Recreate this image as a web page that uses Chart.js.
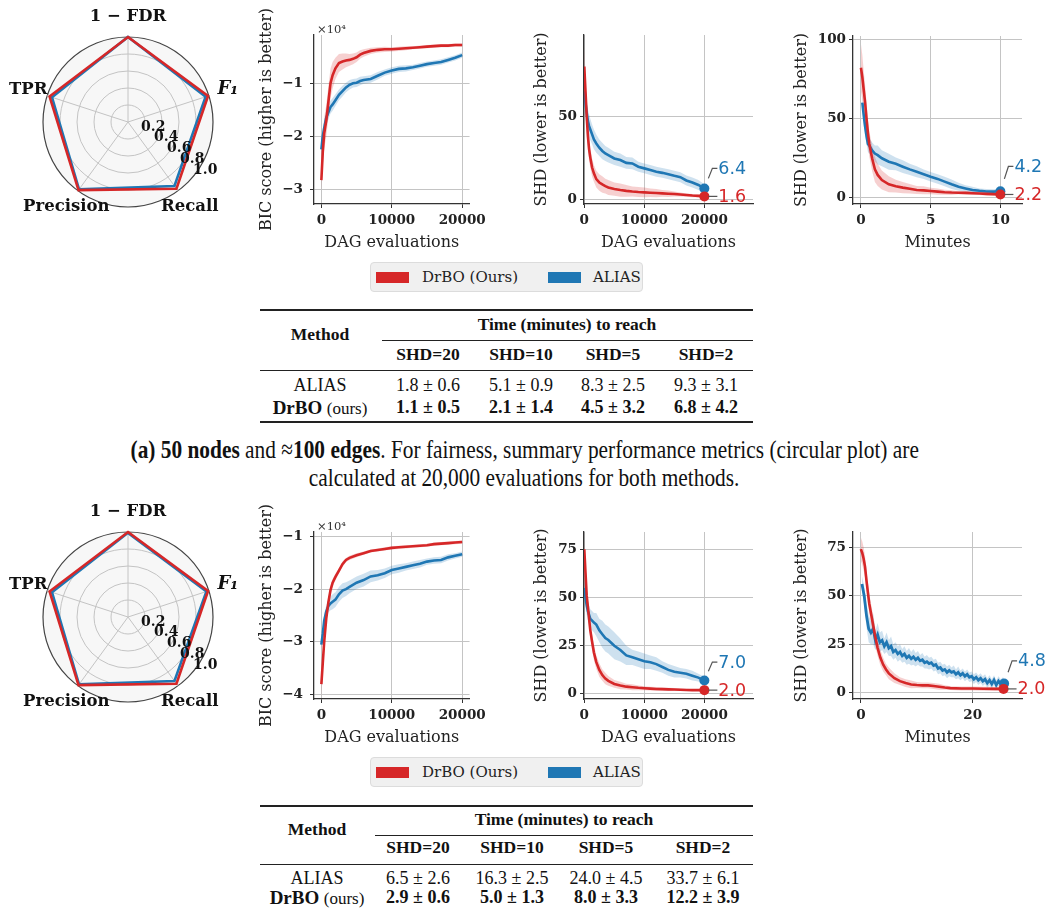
<!DOCTYPE html>
<html>
<head>
<meta charset="utf-8">
<title>DrBO vs ALIAS</title>
<script src="https://cdn.jsdelivr.net/npm/chart.js@4.4.1/dist/chart.umd.min.js"></script>
<style>
  html, body { margin: 0; padding: 0; background: #fff; }
  body { position: relative; width: 1047px; height: 909px; overflow: hidden; }
  canvas { position: absolute; }
  .txt { position: absolute; transform: translate(-50%, -50%); white-space: nowrap;
         font-family: "Liberation Serif", serif; color: #111; font-size: 18px; line-height: 1; }
  .hd { font-weight: bold; font-size: 17.5px; }
  .rule { position: absolute; background: #222; }
  .legend { position: absolute; width: 273px; height: 30px; background: #f0f0f0; border: 1px solid #dcdcdc;
            border-radius: 4px; box-sizing: border-box; font-family: "DejaVu Serif", serif; font-size: 15px; color: #222; }
  .legend .patch { position: absolute; top: 9px; width: 33px; height: 11px; }
  .legend .lab { position: absolute; top: 5px; line-height: 18px; }
  .cap { position: absolute; white-space: nowrap; font-family: "Liberation Serif", serif; font-size: 26px;
         color: #111; line-height: 1; }
</style>
</head>
<body>
<script>
// colours used by matplotlib's tab10
const RED = '#d62728';
const BLUE = '#1f77b4';

// ---------- radar (same axes for both panels) ----------
const radarLabels = ['1 − FDR', 'F₁', 'Recall', 'Precision', 'TPR'];
const radarTicks = [0.2, 0.4, 0.6, 0.8, 1.0];
const radarA_drbo = [1.0, 0.99, 0.97, 0.99, 0.97];
const radarA_alias = [1.0, 0.96, 0.93, 0.98, 0.94];
const radarB_drbo = [1.0, 0.99, 0.97, 0.99, 0.97];
const radarB_alias = [0.99, 0.97, 0.93, 0.98, 0.94];

// ---------- panel (a): BIC score (x1e4) vs DAG evaluations ----------
const bicA_x = [0, 200, 400, 700, 1000, 1300, 1600, 2000, 2500, 3000, 3500, 4000, 4500, 5000, 5500, 6000, 7000, 8000, 9000, 10000, 11000, 12000, 13000, 14000, 15000, 16000, 17000, 18000, 19000, 20000];
const bicA_drbo = [-2.83, -2.3, -1.95, -1.7, -1.35, -1.0, -0.85, -0.72, -0.62, -0.59, -0.57, -0.56, -0.54, -0.51, -0.46, -0.43, -0.39, -0.37, -0.36, -0.36, -0.35, -0.34, -0.33, -0.32, -0.31, -0.30, -0.29, -0.29, -0.28, -0.28];
const bicA_drboBand = [0.2, 0.25, 0.3, 0.3, 0.3, 0.28, 0.25, 0.2, 0.17, 0.15, 0.13, 0.11, 0.1, 0.09, 0.08, 0.07, 0.06, 0.05, 0.05, 0.04, 0.04, 0.04, 0.03, 0.03, 0.03, 0.03, 0.03, 0.03, 0.03, 0.03];
const bicA_alias = [-2.25, -2.0, -1.85, -1.65, -1.55, -1.45, -1.4, -1.32, -1.22, -1.15, -1.08, -1.03, -1.0, -0.99, -0.96, -0.94, -0.92, -0.86, -0.8, -0.76, -0.73, -0.72, -0.7, -0.67, -0.64, -0.62, -0.6, -0.56, -0.52, -0.47];
const bicA_aliasBand = [0.15, 0.15, 0.15, 0.14, 0.13, 0.12, 0.12, 0.11, 0.1, 0.1, 0.09, 0.09, 0.08, 0.08, 0.08, 0.07, 0.07, 0.07, 0.06, 0.06, 0.06, 0.06, 0.05, 0.05, 0.05, 0.05, 0.05, 0.05, 0.05, 0.05];

// ---------- panel (a): SHD vs DAG evaluations ----------
const shdA_x = [0, 200, 400, 600, 800, 1000, 1300, 1600, 2000, 2500, 3000, 3500, 4000, 5000, 6000, 7000, 8000, 9000, 10000, 11000, 12000, 13000, 14000, 15000, 16000, 17000, 18000, 19000, 20000];
const shdA_drbo = [80, 65, 50, 38, 30, 25, 19, 15.5, 12, 10, 8.8, 7.8, 7.0, 6.0, 5.4, 4.9, 4.5, 4.2, 4.0, 3.8, 3.6, 3.4, 3.2, 3.0, 2.7, 2.4, 2.1, 1.9, 1.6];
const shdA_drboBand = [12, 10, 9, 8, 7, 6, 5.5, 5, 5, 5, 5, 4.5, 4.5, 4, 4, 3.5, 3, 3, 3, 2.5, 2.5, 2, 2, 1.5, 1.2, 1, 1, 0.8, 0.5];
const shdA_alias = [65, 58, 52, 47, 44, 42, 39, 36, 33.5, 31, 29, 27.5, 26.5, 24.5, 23.5, 21.8, 21.5, 19.5, 18.5, 17.5, 16.5, 15.8, 15, 14, 13.2, 11.2, 10, 8.5, 6.4];
const shdA_aliasBand = [10, 9, 8, 7, 7, 6.5, 6, 6, 5.5, 5, 5, 4.5, 4.5, 4, 4, 3.5, 3.5, 3, 3, 3, 3, 3, 3, 3, 3, 3, 3, 3, 2.5];

// ---------- panel (a): SHD vs minutes ----------
const minA_drboX = [0, 0.1, 0.2, 0.3, 0.4, 0.5, 0.6, 0.8, 1.0, 1.2, 1.5, 2, 2.5, 3, 3.5, 4, 4.5, 5, 5.5, 6, 6.5, 7, 7.5, 8, 8.5, 9, 9.5, 10];
const minA_drbo = [82, 76, 68, 60, 50, 41, 34, 25, 18, 14.5, 11.3, 8.6, 7.4, 6.5, 5.8, 5.0, 4.8, 4.4, 4.0, 3.6, 3.4, 3.3, 3.2, 3.0, 2.8, 2.6, 2.4, 2.2];
const minA_drboBand = [15, 14, 12, 11, 10, 9, 8, 8, 8, 7, 6, 5, 4, 3.5, 3, 2.5, 2.5, 2, 2, 1.5, 1.5, 1, 1, 1, 1, 1, 1, 1];
const minA_aliasX = [0.1, 0.2, 0.3, 0.4, 0.5, 0.6, 0.8, 1.0, 1.2, 1.5, 2, 2.5, 3, 3.5, 4, 4.5, 5, 5.5, 6, 6.5, 7, 7.5, 8, 8.5, 9, 9.5, 10];
const minA_alias = [60, 52, 45, 39, 34, 33, 30, 28, 27, 25, 22.8, 21.5, 19.7, 18, 16.5, 15, 13.4, 12, 10.3, 8.6, 7.1, 6, 5, 4.5, 4.1, 4.0, 4.2];
const minA_aliasBand = [6, 6, 6, 5, 5, 5, 5, 5, 6, 5, 5, 4, 4, 3.5, 3.5, 3, 3, 3, 3, 3, 2.5, 2, 2, 1.5, 1.5, 1.5, 1.5];

// ---------- panel (b): BIC score (x1e4) vs DAG evaluations ----------
const bicB_x = [0, 200, 400, 700, 1000, 1300, 1600, 2000, 2500, 3000, 3500, 4000, 5000, 6000, 7000, 8000, 9000, 10000, 11000, 12000, 13000, 14000, 15000, 16000, 17000, 18000, 19000, 20000];
const bicB_drbo = [-3.8, -3.4, -3.0, -2.55, -2.25, -2.02, -1.88, -1.77, -1.65, -1.53, -1.45, -1.41, -1.36, -1.32, -1.28, -1.26, -1.24, -1.22, -1.21, -1.20, -1.19, -1.18, -1.17, -1.15, -1.14, -1.13, -1.12, -1.11];
const bicB_drboBand = [0.25, 0.2, 0.15, 0.12, 0.1, 0.08, 0.07, 0.06, 0.05, 0.05, 0.04, 0.04, 0.04, 0.03, 0.03, 0.03, 0.03, 0.03, 0.03, 0.03, 0.03, 0.03, 0.03, 0.03, 0.03, 0.03, 0.03, 0.03];
const bicB_alias = [-3.05, -2.85, -2.6, -2.42, -2.32, -2.27, -2.24, -2.2, -2.1, -2.03, -2.0, -1.96, -1.88, -1.83, -1.76, -1.74, -1.70, -1.64, -1.61, -1.58, -1.55, -1.52, -1.48, -1.46, -1.45, -1.40, -1.37, -1.34];
const bicB_aliasBand = [0.1, 0.12, 0.12, 0.12, 0.12, 0.13, 0.14, 0.14, 0.14, 0.14, 0.13, 0.12, 0.12, 0.12, 0.11, 0.1, 0.09, 0.08, 0.08, 0.07, 0.07, 0.07, 0.06, 0.06, 0.06, 0.06, 0.05, 0.05];

// ---------- panel (b): SHD vs DAG evaluations ----------
const shdB_x = [0, 200, 400, 600, 800, 1000, 1300, 1600, 2000, 2500, 3000, 3500, 4000, 5000, 6000, 7000, 8000, 9000, 10000, 11000, 12000, 13000, 14000, 15000, 16000, 17000, 18000, 19000, 20000];
const shdB_drbo = [75, 63, 51, 45, 39, 33, 27, 21.5, 16.5, 12.5, 9.8, 8.0, 6.8, 5.2, 4.4, 3.8, 3.5, 3.2, 3.0, 2.8, 2.6, 2.5, 2.4, 2.3, 2.2, 2.1, 2.0, 2.0, 2.0];
const shdB_drboBand = [5, 5, 5, 4.5, 4.5, 4, 4, 4, 3.5, 3.5, 3, 3, 2.5, 2, 2, 1.5, 1.5, 1.2, 1, 1, 1, 0.8, 0.8, 0.8, 0.6, 0.6, 0.5, 0.5, 0.5];
const shdB_alias = [55, 50, 46, 43, 41, 39, 38, 37, 36, 33, 31, 29, 28, 25, 22.8, 20, 19, 18, 17, 16.5, 15.5, 14, 12.5, 11.5, 11, 10.5, 9.5, 8.5, 7.0];
const shdB_aliasBand = [5, 5, 5, 5, 5, 5, 5, 5, 6, 6, 7, 7, 7, 7, 6, 5, 4, 4, 4, 3.5, 3.5, 3, 3, 3, 2.5, 2.5, 2.5, 2, 2];

// ---------- panel (b): SHD vs minutes ----------
const minB_drboX = [0, 0.25, 0.5, 0.75, 1, 1.25, 1.5, 1.75, 2, 2.5, 3, 3.5, 4, 4.5, 5, 6, 7, 8, 9, 10, 11, 12, 13, 14, 15, 16, 18, 20, 22, 24, 25.5];
const minB_drbo = [74, 72, 69, 65, 58, 52, 46, 42, 38, 30, 23, 18, 14.5, 12, 10, 7.5, 6, 5, 4.3, 4, 3.8, 3.8, 3.5, 3.1, 2.7, 2.4, 2.2, 2.2, 2.1, 2.0, 2.0];
const minB_drboBand = [6, 6, 6, 5.5, 5, 5, 5, 5, 5, 5, 4, 4, 3.5, 3, 3, 2.5, 2, 2, 2, 1.5, 1.5, 1.5, 1.5, 1.5, 1.2, 1, 1, 1, 1, 1, 1];
const minB_aliasX = [0.2, 0.6, 1.0, 1.4, 1.8, 2.2, 2.6, 3.0, 3.4, 3.8, 4.2, 4.6, 5.0, 5.4, 5.8, 6.2, 6.6, 7.0, 7.4, 7.8,
  8.2, 8.6, 9.0, 9.4, 9.8, 10.2, 10.6, 11.0, 11.4, 11.8, 12.2, 12.6, 13.0, 13.4, 13.8, 14.2, 14.6, 15.0, 15.4, 15.8,
  16.2, 16.6, 17.0, 17.4, 17.8, 18.2, 18.6, 19.0, 19.4, 19.8, 20.2, 20.6, 21.0, 21.4, 21.8, 22.2, 22.6, 23.0, 23.4, 23.8,
  24.2, 24.6, 25.0, 25.4, 25.6];
const minB_alias = [56, 50, 40, 33, 31, 33, 27, 30, 26, 27, 24, 26, 23, 24, 21, 22, 20, 21, 19, 20,
  18, 19, 17.5, 18.5, 17, 18, 16.5, 17, 15.5, 16, 15, 15.5, 14, 14.5, 12.5, 13, 11.5, 12, 10.5, 11.5,
  10.5, 11, 9.5, 10.5, 9, 10, 8.5, 9.5, 8, 8.5, 7, 8, 6.5, 7.5, 6, 7, 5, 6.5, 4.5, 6.5,
  4, 6, 4.5, 5.5, 4.8];
const minB_aliasBand = [4, 5, 6, 7, 6, 8, 5, 6, 5, 5, 4, 5, 4, 5, 4, 4, 4, 4, 3.5, 4,
  3.5, 4, 3.5, 4, 3.5, 3.5, 3, 3.5, 3, 3.5, 3, 3, 3, 3, 3, 3, 3, 3, 3, 3,
  2.5, 3, 2.5, 3, 2.5, 2.5, 2.5, 2.5, 2.5, 2.5, 2.5, 2.5, 2.5, 2.5, 2.5, 2.5, 2.5, 2.5, 2.5, 2.5,
  2.5, 2.5, 2.5, 2.5, 2.5];

// ---------- tables: time (minutes) to reach SHD ----------
const tableCols = ['SHD=20', 'SHD=10', 'SHD=5', 'SHD=2'];
const tableA_aliasMean = [1.8, 5.1, 8.3, 9.3];
const tableA_aliasStd = [0.6, 0.9, 2.5, 3.1];
const tableA_drboMean = [1.1, 2.1, 4.5, 6.8];
const tableA_drboStd = [0.5, 1.4, 3.2, 4.2];
const tableB_aliasMean = [6.5, 16.3, 24.0, 33.7];
const tableB_aliasStd = [2.6, 2.5, 4.5, 6.1];
const tableB_drboMean = [2.9, 5.0, 8.0, 12.2];
const tableB_drboStd = [0.6, 1.3, 3.3, 3.9];

// ---------- helpers ----------
function pts(xs, ys) { return xs.map((x, i) => ({ x: x, y: ys[i] })); }
function shift(ys, band, sign) { return ys.map((v, i) => v + sign * band[i]); }

function addCanvas(left, top, w, h) {
    const cv = document.createElement('canvas');
    cv.width = w; cv.height = h;
    cv.style.left = left + 'px'; cv.style.top = top + 'px';
    document.body.appendChild(cv);
    return cv;
}

// light disc, point labels and diagonal radial tick labels (matplotlib style)
const radarDecor = {
    id: 'radarDecor',
    beforeDraw(chart) {
        const r = chart.scales.r, ctx = chart.ctx;
        ctx.save();
        ctx.fillStyle = '#f7f7f7';
        ctx.beginPath();
        ctx.arc(r.xCenter, r.yCenter, r.drawingArea, 0, Math.PI * 2);
        ctx.fill();
        ctx.restore();
    },
    afterDraw(chart) {
        const r = chart.scales.r, ctx = chart.ctx;
        ctx.save();
        ctx.fillStyle = '#111';
        ctx.textAlign = 'center';
        ctx.textBaseline = 'middle';
        chart.data.labels.forEach((lab, i) => {
            const p = r.getPointPosition(i, r.drawingArea + 20);
            ctx.font = lab.startsWith('F') ? 'italic bold 18px "DejaVu Serif"' : 'bold 16.5px "DejaVu Serif"';
            ctx.fillText(lab, p.x, p.y);
        });
        ctx.font = 'bold 14px "DejaVu Serif"';
        ctx.textAlign = 'left';
        ctx.textBaseline = 'bottom';
        const a = 40 * Math.PI / 180;
        radarTicks.forEach(v => {
            const d = r.getDistanceFromCenterForValue(v);
            ctx.fillText(v.toFixed(1), r.xCenter + d * Math.cos(a), r.yCenter + d * Math.sin(a) + 1);
        });
        ctx.restore();
    }
};

function radarChart(top, drbo, alias) {
    const cv = addCanvas(0, top, 256, 215);
    new Chart(cv, {
        type: 'radar',
        data: {
            labels: radarLabels,
            datasets: [
                { label: 'DrBO (Ours)', data: drbo, borderColor: RED, borderWidth: 2.6, pointRadius: 0, fill: false },
                { label: 'ALIAS', data: alias, borderColor: BLUE, borderWidth: 2.6, pointRadius: 0, fill: false }
            ]
        },
        options: {
            responsive: false,
            animation: false,
            devicePixelRatio: 1,
            layout: { padding: { left: 43, right: 43, top: 37, bottom: 8 } },
            plugins: { legend: { display: false }, tooltip: { enabled: false } },
            scales: {
                r: {
                    min: 0, max: 1,
                    ticks: { display: false, stepSize: 0.2 },
                    pointLabels: { display: false },
                    grid: {
                        circular: true,
                        color: c => c.tick.value > 0.99 ? '#444' : '#c4c4c4',
                        lineWidth: c => c.tick.value > 0.99 ? 1.2 : 1
                    },
                    angleLines: { color: '#c4c4c4', lineWidth: 1 }
                }
            }
        },
        plugins: [radarDecor]
    });
}

// final value labels with a little leader line, red at its own height, blue lifted above
const endLabels = {
    id: 'endLabels',
    afterDatasetsDraw(chart, args, opts) {
        if (!opts.show) return;
        const ctx = chart.ctx;
        const ends = [0, 1].map(i => {
            const meta = chart.getDatasetMeta(i);
            const ds = chart.data.datasets[i];
            const el = meta.data[meta.data.length - 1];
            return { x: el.x, y: el.y, v: ds.data[ds.data.length - 1].y, color: ds.borderColor };
        });
        const redY = ends[0].y;
        const blueY = Math.min(ends[1].y, redY - opts.gap);
        ctx.save();
        ctx.lineWidth = 1.2;
        ctx.strokeStyle = '#555';
        ctx.font = '17.5px "DejaVu Sans"';
        ctx.textAlign = 'left';
        ctx.textBaseline = 'middle';
        [[ends[0], redY], [ends[1], blueY]].forEach(([p, ly]) => {
            ctx.beginPath();
            ctx.moveTo(p.x + 4, p.y + (ly - p.y) * 4 / 8);
            ctx.lineTo(p.x + 8, ly);
            ctx.lineTo(p.x + 13, ly);
            ctx.stroke();
            ctx.fillStyle = p.color;
            ctx.fillText(p.v.toFixed(1), p.x + 14, ly + 1);
        });
        ctx.restore();
    }
};

// the "x10^4" offset text of the BIC axes
const expLabel = {
    id: 'expLabel',
    afterDraw(chart, args, opts) {
        if (!opts.text) return;
        const { ctx, chartArea } = chart;
        ctx.save();
        ctx.font = '11.5px "DejaVu Serif"';
        ctx.fillStyle = '#333';
        ctx.textAlign = 'left';
        ctx.textBaseline = 'alphabetic';
        ctx.fillText(opts.text, chartArea.left + 3, chartArea.top - 2);
        ctx.restore();
    }
};

const tickFont = { family: 'DejaVu Serif', weight: 'bold', size: 13.5 };
const titleFont = { family: 'DejaVu Serif', size: 16 };

function lineChart(o) {
    const cv = addCanvas(o.left, o.top, o.w, 260);
    const lastR = o.red.length - 1, lastB = o.blue.length - 1;
    const hidden = 'rgba(0,0,0,0)';
    new Chart(cv, {
        type: 'line',
        data: {
            datasets: [
                { label: 'DrBO (Ours)', data: pts(o.redX, o.red), borderColor: RED, borderWidth: 2.6,
                  pointRadius: c => (o.ends && c.dataIndex === lastR) ? 5 : 0,
                  pointBackgroundColor: RED, pointBorderWidth: 0 },
                { label: 'ALIAS', data: pts(o.blueX, o.blue), borderColor: BLUE, borderWidth: o.blueW || 2.6,
                  pointRadius: c => (o.ends && c.dataIndex === lastB) ? 5 : 0,
                  pointBackgroundColor: BLUE, pointBorderWidth: 0 },
                { data: pts(o.redX, shift(o.red, o.redBand, 1)), fill: '+1',
                  backgroundColor: 'rgba(214,39,40,0.22)', borderColor: hidden, borderWidth: 0, pointRadius: 0 },
                { data: pts(o.redX, shift(o.red, o.redBand, -1)), borderColor: hidden, borderWidth: 0, pointRadius: 0 },
                { data: pts(o.blueX, shift(o.blue, o.blueBand, 1)), fill: '+1',
                  backgroundColor: 'rgba(31,119,180,0.22)', borderColor: hidden, borderWidth: 0, pointRadius: 0 },
                { data: pts(o.blueX, shift(o.blue, o.blueBand, -1)), borderColor: hidden, borderWidth: 0, pointRadius: 0 }
            ]
        },
        options: {
            responsive: false,
            animation: false,
            devicePixelRatio: 1,
            layout: { padding: { top: o.padTop, right: o.padRight, left: 0, bottom: 0 }, autoPadding: false },
            plugins: {
                legend: { display: false },
                tooltip: { enabled: false },
                endLabels: { show: !!o.ends, gap: 28 },
                expLabel: { text: o.exp || '' }
            },
            scales: {
                x: {
                    type: 'linear',
                    min: o.xmin, max: o.xmax,
                    afterBuildTicks: s => { s.ticks = o.xticks.map(v => ({ value: v })); },
                    afterFit: s => { s.height = 56; },
                    ticks: { font: tickFont, color: '#222', padding: 4, maxRotation: 0, autoSkip: false,
                             callback: v => String(v) },
                    grid: { color: '#c4c4c4', lineWidth: 1, tickLength: 4, tickColor: '#333' },
                    border: { display: true, color: '#333', width: 1.3 },
                    title: { display: true, text: o.xTitle, font: titleFont, color: '#222', padding: { top: 0, bottom: 8 } }
                },
                y: {
                    min: o.ymin, max: o.ymax,
                    afterBuildTicks: s => { s.ticks = o.yticks.map(v => ({ value: v })); },
                    afterFit: s => { s.width = o.yW; },
                    ticks: { font: tickFont, color: '#222', padding: o.yPad, autoSkip: false,
                             callback: v => v < 0 ? '−' + Math.abs(v) : String(v) },
                    grid: { color: '#c4c4c4', lineWidth: 1, tickLength: 4, tickColor: '#333' },
                    border: { display: true, color: '#333', width: 1.3 },
                    title: { display: true, text: o.yTitle, font: titleFont, color: '#222', padding: { top: 17, bottom: 0 } }
                }
            }
        },
        plugins: [endLabels, expLabel]
    });
}

function put(x, y, html, cls) {
    const d = document.createElement('div');
    d.className = 'txt ' + (cls || '');
    d.style.left = x + 'px';
    d.style.top = y + 'px';
    d.innerHTML = html;
    document.body.appendChild(d);
    return d;
}
function rule(x1, x2, y, h) {
    const d = document.createElement('div');
    d.className = 'rule';
    d.style.left = x1 + 'px';
    d.style.width = (x2 - x1) + 'px';
    d.style.top = (y - h / 2) + 'px';
    d.style.height = h + 'px';
    document.body.appendChild(d);
}
function pm(m, s) { return m.toFixed(1) + ' ± ' + s.toFixed(1); }

function shdTable(g, aliasM, aliasS, drboM, drboS) {
    rule(260, 753, g.top, 1.6);
    put(g.methodX, g.methodY, 'Method', 'hd');
    put(g.timeX, g.timeY, 'Time (minutes) to reach', 'hd');
    rule(g.cmidX, 753, g.cmidY, 1);
    tableCols.forEach((c, i) => put(g.colX[i], g.subY, c, 'hd'));
    rule(260, 753, g.midY, 1);
    put(g.methodX, g.aliasY, 'ALIAS');
    put(g.methodX, g.drboY, '<b style="font-size:19px">DrBO</b> <span style="font-size:17px">(ours)</span>');
    aliasM.forEach((m, i) => put(g.colX[i], g.aliasY, pm(m, aliasS[i])));
    drboM.forEach((m, i) => put(g.colX[i], g.drboY, '<b>' + pm(m, drboS[i]) + '</b>'));
    if (g.botY) rule(260, 753, g.botY, 1.6);
}

function legendBox(top) {
    const d = document.createElement('div');
    d.className = 'legend';
    d.style.left = '370px';
    d.style.top = top + 'px';
    d.innerHTML =
        '<span class="patch" style="left:5px;background:' + RED + '"></span>' +
        '<span class="lab" style="left:51px">DrBO (Ours)</span>' +
        '<span class="patch" style="left:177px;background:' + BLUE + '"></span>' +
        '<span class="lab" style="left:222px">ALIAS</span>';
    document.body.appendChild(d);
}

// ================= panel (a) =================
radarChart(0, radarA_drbo, radarA_alias);
lineChart({ left: 240, top: 0, w: 250, yW: 74, padTop: 35, padRight: 7, yPad: 7,
    xmin: -1046, xmax: 21046, ymin: -3.28, ymax: -0.09, xticks: [0, 10000, 20000], yticks: [-3, -2, -1],
    xTitle: 'DAG evaluations', yTitle: 'BIC score (higher is better)', exp: '×10⁴',
    redX: bicA_x, red: bicA_drbo, redBand: bicA_drboBand, blueX: bicA_x, blue: bicA_alias, blueBand: bicA_aliasBand });
lineChart({ left: 515, top: 0, w: 245, yW: 69, padTop: 35, padRight: 7, yPad: 3,
    xmin: -50, xmax: 28100, ymin: -3, ymax: 99, xticks: [0, 10000, 20000], yticks: [0, 50],
    xTitle: 'DAG evaluations', yTitle: 'SHD (lower is better)', ends: true,
    redX: shdA_x, red: shdA_drbo, redBand: shdA_drboBand, blueX: shdA_x, blue: shdA_alias, blueBand: shdA_aliasBand });
lineChart({ left: 775, top: 0, w: 272, yW: 78, padTop: 36, padRight: 25, yPad: 3,
    xmin: -0.57, xmax: 11.55, ymin: -3.8, ymax: 102, xticks: [0, 5, 10], yticks: [0, 50, 100],
    xTitle: 'Minutes', yTitle: 'SHD (lower is better)', ends: true,
    redX: minA_drboX, red: minA_drbo, redBand: minA_drboBand, blueX: minA_aliasX, blue: minA_alias, blueBand: minA_aliasBand });
legendBox(262);
shdTable({ top: 310, methodX: 320, methodY: 335, timeX: 567, timeY: 325, cmidX: 382, cmidY: 340,
    colX: [428, 521, 613, 706], subY: 355, midY: 370, aliasY: 385, drboY: 407, botY: 422 },
    tableA_aliasMean, tableA_aliasStd, tableA_drboMean, tableA_drboStd);

const cap1 = document.createElement('div');
cap1.className = 'cap';
cap1.innerHTML = '<b>(a) 50 nodes</b> and ≈<b>100 edges</b>. For fairness, summary performance metrics (circular plot) are';
document.body.appendChild(cap1);
const cap2 = document.createElement('div');
cap2.className = 'cap';
cap2.innerHTML = 'calculated at 20,000 evaluations for both methods.';
document.body.appendChild(cap2);
const capScale = 788 / cap1.offsetWidth;
[[cap1, 450], [cap2, 478]].forEach(([el, y]) => {
    el.style.left = (524 - el.offsetWidth / 2) + 'px';
    el.style.top = (y - el.offsetHeight / 2) + 'px';
    el.style.transform = 'scaleX(' + capScale + ')';
});

// ================= panel (b) =================
radarChart(495, radarB_drbo, radarB_alias);
lineChart({ left: 240, top: 495, w: 250, yW: 74, padTop: 37, padRight: 7, yPad: 7,
    xmin: -1046, xmax: 21046, ymin: -4.08, ymax: -0.92, xticks: [0, 10000, 20000], yticks: [-4, -3, -2, -1],
    xTitle: 'DAG evaluations', yTitle: 'BIC score (higher is better)', exp: '×10⁴',
    redX: bicB_x, red: bicB_drbo, redBand: bicB_drboBand, blueX: bicB_x, blue: bicB_alias, blueBand: bicB_aliasBand });
lineChart({ left: 515, top: 495, w: 245, yW: 69, padTop: 37, padRight: 7, yPad: 3,
    xmin: -50, xmax: 28100, ymin: -2.6, ymax: 84, xticks: [0, 10000, 20000], yticks: [0, 25, 50, 75],
    xTitle: 'DAG evaluations', yTitle: 'SHD (lower is better)', ends: true,
    redX: shdB_x, red: shdB_drbo, redBand: shdB_drboBand, blueX: shdB_x, blue: shdB_alias, blueBand: shdB_aliasBand });
lineChart({ left: 775, top: 495, w: 272, yW: 78, padTop: 37, padRight: 25, yPad: 3,
    xmin: -1.4, xmax: 28.8, ymin: -3.2, ymax: 82.8, xticks: [0, 20], yticks: [0, 25, 50, 75],
    xTitle: 'Minutes', yTitle: 'SHD (lower is better)', ends: true, blueW: 2.8,
    redX: minB_drboX, red: minB_drbo, redBand: minB_drboBand, blueX: minB_aliasX, blue: minB_alias, blueBand: minB_aliasBand });
legendBox(757);
shdTable({ top: 806, methodX: 317, methodY: 830, timeX: 564, timeY: 820, cmidX: 375, cmidY: 835,
    colX: [418, 512, 606, 703], subY: 848, midY: 864, aliasY: 878, drboY: 897 },
    tableB_aliasMean, tableB_aliasStd, tableB_drboMean, tableB_drboStd);
</script>
</body>
</html>
